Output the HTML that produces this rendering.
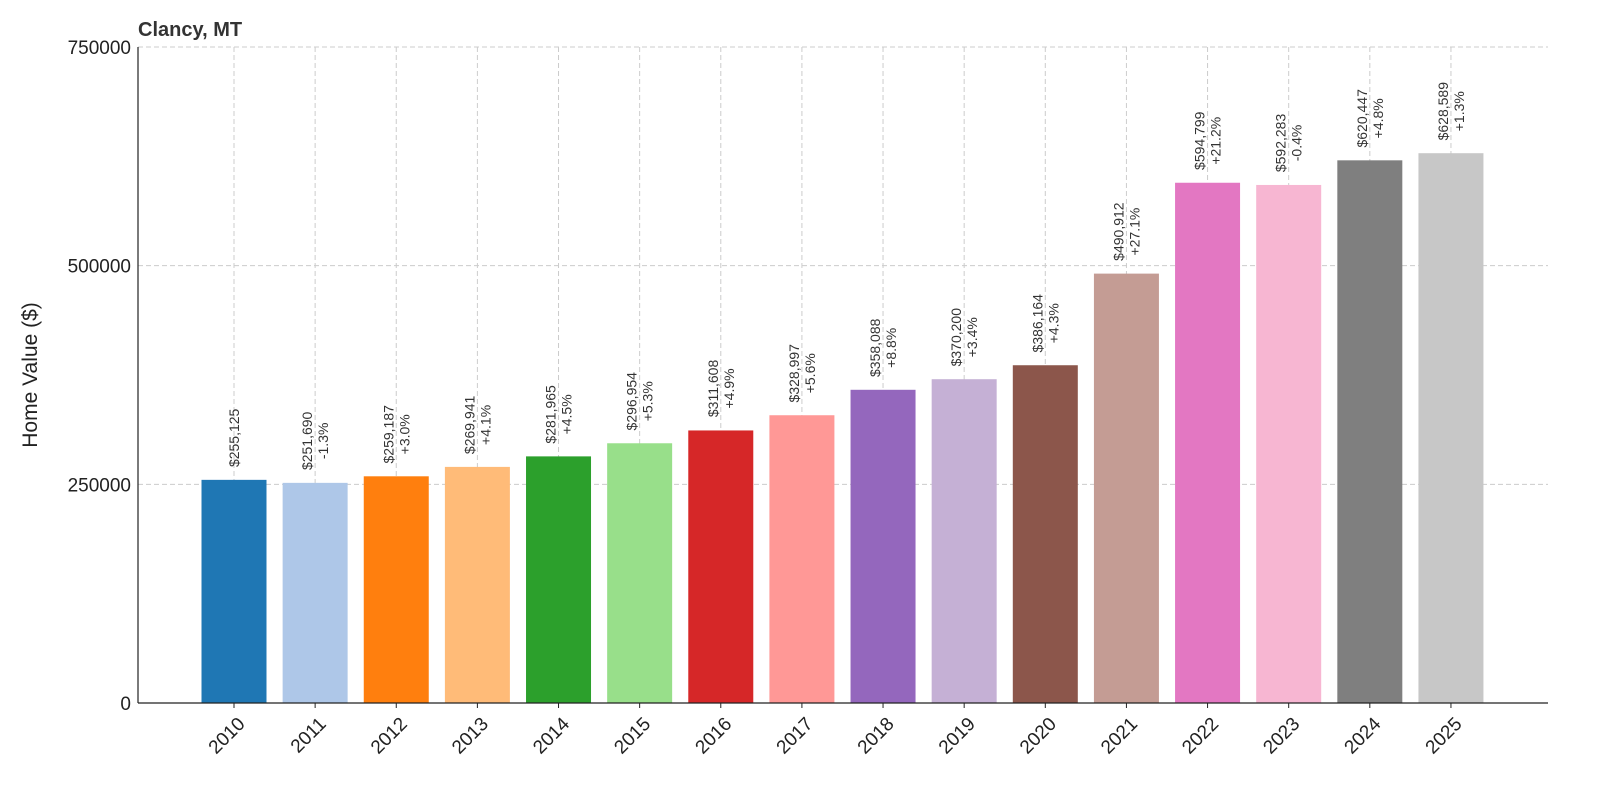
<!DOCTYPE html>
<html><head><meta charset="utf-8"><style>
body{margin:0;background:#fff}
svg{display:block;font-family:"Liberation Sans","DejaVu Sans",sans-serif}
</style></head><body>
<svg id="chart" width="1600" height="800" viewBox="0 0 1600 800" xmlns="http://www.w3.org/2000/svg">
<rect width="1600" height="800" fill="#fff"/>
<text x="138" y="36" font-size="20" font-weight="bold" fill="#333">Clancy, MT</text>
<text transform="translate(37,375) rotate(-90)" text-anchor="middle" font-size="21" fill="#222">Home Value ($)</text>
<g id="grid"></g><g id="bars"></g><g id="labels"></g><g id="axes"></g>
</svg>
<script>
const years=["2010","2011","2012","2013","2014","2015","2016","2017","2018","2019","2020","2021","2022","2023","2024","2025"];
const values=[255125,251690,259187,269941,281965,296954,311608,328997,358088,370200,386164,490912,594799,592283,620447,628589];
const changes=["","-1.3%","+3.0%","+4.1%","+4.5%","+5.3%","+4.9%","+5.6%","+8.8%","+3.4%","+4.3%","+27.1%","+21.2%","-0.4%","+4.8%","+1.3%"];
const yTicks=[0,250000,500000,750000];
const colors=["#1f77b4","#aec7e8","#ff7f0e","#ffbb78","#2ca02c","#98df8a","#d62728","#ff9896","#9467bd","#c5b0d5","#8c564b","#c49c94","#e377c2","#f7b6d2","#7f7f7f","#c7c7c7"];
const NS="http://www.w3.org/2000/svg";
const L=138,R=1548,T=47,B=703,YMAX=750000;
const y=v=>B-(v/YMAX)*(B-T);
const x=i=>234+i*81.13;
const bw=65;
function mk(t,a,p){const e=document.createElementNS(NS,t);for(const k in a)e.setAttribute(k,a[k]);p.appendChild(e);return e;}
const grid=document.getElementById('grid'),bars=document.getElementById('bars'),labels=document.getElementById('labels'),axes=document.getElementById('axes');
yTicks.forEach(t=>{
  const ln=mk('line',{x1:L,x2:R,y1:y(t),y2:y(t),stroke:'#ccc','stroke-dasharray':'5,3','stroke-width':1},grid);
  
  
  const tx=mk('text',{x:L-7,y:y(t)+7,'text-anchor':'end','font-size':19,fill:'#222'},axes);
  tx.textContent=t;
  
  
});
years.forEach((yr,i)=>{
  const gl=mk('line',{x1:x(i),x2:x(i),y1:T,y2:B,stroke:'#ccc','stroke-dasharray':'5,3','stroke-width':1},grid);
  
  
  const r=mk('rect',{x:x(i)-bw/2,y:y(values[i]),width:bw,height:B-y(values[i]),fill:colors[i]},bars);
  
  
  const vt='$'+values[i].toLocaleString('en-US');
  const cy=y(values[i])-8-34;
  const g=mk('g',{transform:'translate('+x(i)+','+cy+') rotate(-90)'},labels);
  
  
  if(changes[i]){
    const a=mk('text',{x:0,y:-3,'text-anchor':'middle','font-size':14,fill:'#333'},g);a.textContent=vt;
    const b=mk('text',{x:0,y:13,'text-anchor':'middle','font-size':14,fill:'#333'},g);b.textContent=changes[i];
  } else {
    const a=mk('text',{x:0,y:5,'text-anchor':'middle','font-size':14,fill:'#333'},g);a.textContent=vt;
  }
  mk('line',{x1:x(i),x2:x(i),y1:B,y2:B+5,stroke:'#222'},axes);
  const xt=mk('text',{transform:'translate('+(x(i)+12)+','+(B+22)+') rotate(-45)','text-anchor':'end','font-size':19,fill:'#222'},axes);
  xt.textContent=yr;
  
  
});
mk('line',{x1:L,x2:L,y1:T,y2:B,stroke:'#222','stroke-width':1.2},axes);
mk('line',{x1:L,x2:R,y1:B,y2:B,stroke:'#222','stroke-width':1.2},axes);
</script>
</body></html>
